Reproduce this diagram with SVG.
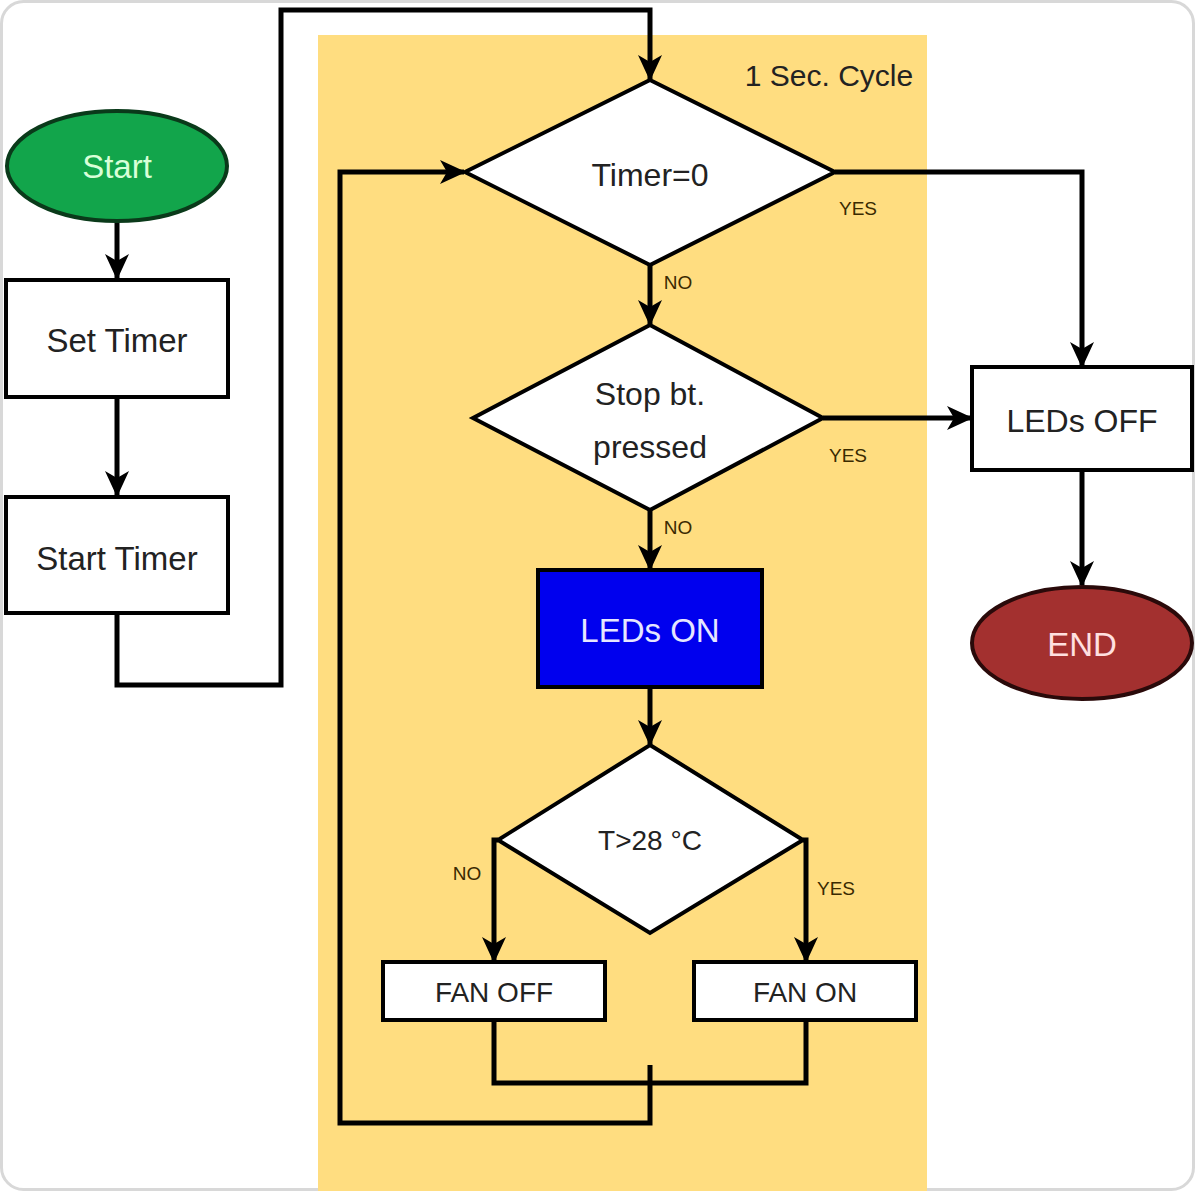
<svg xmlns="http://www.w3.org/2000/svg" width="1195" height="1191" viewBox="0 0 1195 1191">
<style>
.box{fill:#fff;stroke:#000;stroke-width:4}
.dia{fill:#fff;stroke:#000;stroke-width:4;stroke-linejoin:miter}
.ln{fill:none;stroke:#000;stroke-width:5;stroke-linejoin:miter}
.t{font-family:"Liberation Sans",Arial,sans-serif;text-anchor:middle;fill:#222}
.tw{fill:#E6E6FF}
.ts{fill:#D8FFD8}
.te{fill:#FFE0E0}
.lbl{font-family:"Liberation Sans",Arial,sans-serif;text-anchor:middle;fill:#3a2a00;font-size:19px}
</style>
<defs>
<marker id="ah" markerWidth="26" markerHeight="26" refX="24" refY="13" orient="auto" markerUnits="userSpaceOnUse" viewBox="0 0 26 26">
<path d="M0,1 L26,13 L0,25 L7,13 Z" fill="#000"/>
</marker>
</defs>
<rect x="1.5" y="1.5" width="1192" height="1188" rx="22" fill="#fff" stroke="#d8d8d8" stroke-width="3"/>
<rect x="318" y="35" width="609" height="1156" fill="#FFDD80"/>
<text x="829" y="86" class="t" font-size="30">1 Sec. Cycle</text>
<g id="connectors">
<line class="ln" x1="117" y1="222" x2="117" y2="278" marker-end="url(#ah)"/>
<line class="ln" x1="117" y1="397" x2="117" y2="495" marker-end="url(#ah)"/>
<polyline class="ln" points="117,613 117,685 281,685 281,10 650,10 650,79" marker-end="url(#ah)"/>
<polyline class="ln" points="835,172 1082,172 1082,366" marker-end="url(#ah)"/>
<line class="ln" x1="650" y1="265" x2="650" y2="324" marker-end="url(#ah)"/>
<line class="ln" x1="823" y1="418" x2="971" y2="418" marker-end="url(#ah)"/>
<line class="ln" x1="1082" y1="470" x2="1082" y2="585" marker-end="url(#ah)"/>
<line class="ln" x1="650" y1="510" x2="650" y2="569" marker-end="url(#ah)"/>
<line class="ln" x1="650" y1="687" x2="650" y2="744" marker-end="url(#ah)"/>
<polyline class="ln" points="498,840 494,840 494,961" marker-end="url(#ah)"/>
<polyline class="ln" points="803,840 806,840 806,961" marker-end="url(#ah)"/>
<polyline class="ln" points="494,1020 494,1083 806,1083 806,1020"/>
<polyline class="ln" points="650,1065 650,1123 340,1123 340,172 464,172" marker-end="url(#ah)"/>
</g>
<g id="labels">
<text x="858" y="215" class="lbl">YES</text>
<text x="678" y="289" class="lbl">NO</text>
<text x="848" y="462" class="lbl">YES</text>
<text x="678" y="534" class="lbl">NO</text>
<text x="467" y="880" class="lbl">NO</text>
<text x="836" y="895" class="lbl">YES</text>
</g>
<g id="start">
<ellipse cx="117" cy="166" rx="110" ry="55" fill="#12A54B" stroke="#0a3a1a" stroke-width="4"/>
<text x="117" y="178" class="t ts" font-size="33">Start</text>
</g>
<g id="set-timer">
<rect class="box" x="6" y="280" width="222" height="117"/>
<text x="117" y="352" class="t" font-size="33">Set Timer</text>
</g>
<g id="start-timer">
<rect class="box" x="6" y="497" width="222" height="116"/>
<text x="117" y="570" class="t" font-size="33">Start Timer</text>
</g>
<g id="timer-zero">
<polygon class="dia" points="650,80 835,172 650,265 465,172"/>
<text x="650" y="186" class="t" font-size="32">Timer=0</text>
</g>
<g id="stop-pressed">
<polygon class="dia" points="650,325 823,418 650,510 473,418"/>
<text x="650" y="405" class="t" font-size="32">Stop bt.</text>
<text x="650" y="458" class="t" font-size="32">pressed</text>
</g>
<g id="leds-off">
<rect class="box" x="972" y="367" width="220" height="103"/>
<text x="1082" y="432" class="t" font-size="32">LEDs OFF</text>
</g>
<g id="end">
<ellipse cx="1082" cy="643" rx="110" ry="56" fill="#A3302F" stroke="#2a0a0a" stroke-width="4"/>
<text x="1082" y="656" class="t te" font-size="33">END</text>
</g>
<g id="leds-on">
<rect x="538" y="570" width="224" height="117" fill="#0000EE" stroke="#000" stroke-width="4"/>
<text x="650" y="642" class="t tw" font-size="33">LEDs ON</text>
</g>
<g id="temp">
<polygon class="dia" points="650,745 803,840 650,933 498,840"/>
<text x="650" y="850" class="t" font-size="28">T&gt;28 °C</text>
</g>
<g id="fan-off">
<rect class="box" x="383" y="962" width="222" height="58"/>
<text x="494" y="1002" class="t" font-size="28">FAN OFF</text>
</g>
<g id="fan-on">
<rect class="box" x="694" y="962" width="222" height="58"/>
<text x="805" y="1002" class="t" font-size="28">FAN ON</text>
</g>
</svg>
